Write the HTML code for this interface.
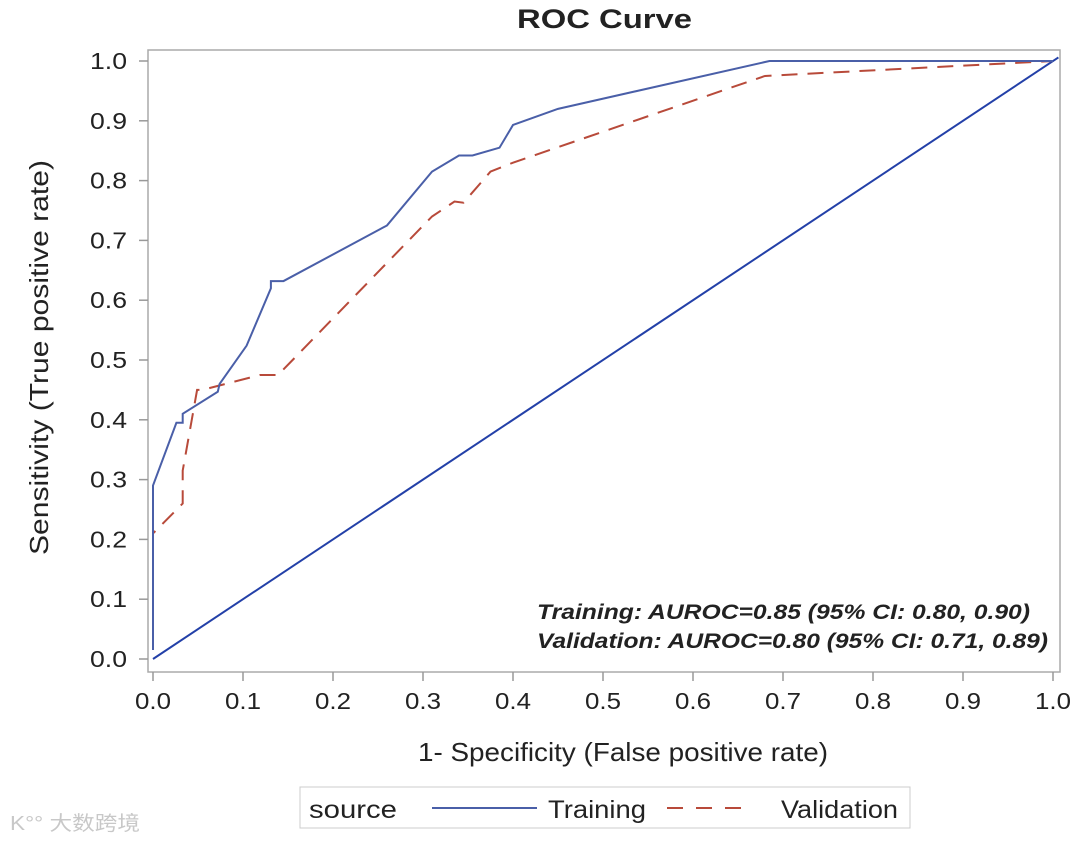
<!DOCTYPE html>
<html><head><meta charset="utf-8"><style>
body{margin:0;background:#fff;width:1080px;height:841px;overflow:hidden;font-family:"Liberation Sans",sans-serif}
svg{display:block}
text{font-family:"Liberation Sans","Noto Sans CJK SC",sans-serif;fill:#222}
</style></head><body>
<svg width="1080" height="841">
<text x="517" y="28" textLength="175" lengthAdjust="spacingAndGlyphs" font-size="27" font-weight="bold">ROC Curve</text>
<rect x="148" y="50" width="912" height="622" fill="none" stroke="#aaa" stroke-width="1.5"/>
<g id="axes"></g>
<g id="series"></g>
<text x="537" y="619" textLength="493" lengthAdjust="spacingAndGlyphs" font-size="21" font-weight="bold" font-style="italic">Training: AUROC=0.85 (95% CI: 0.80, 0.90)</text>
<text x="537" y="648" textLength="511" lengthAdjust="spacingAndGlyphs" font-size="21" font-weight="bold" font-style="italic">Validation: AUROC=0.80 (95% CI: 0.71, 0.89)</text>
<text x="418" y="761" textLength="410" lengthAdjust="spacingAndGlyphs" font-size="26">1- Specificity (False positive rate)</text>
<text transform="translate(48,555) rotate(-90)" textLength="395" lengthAdjust="spacingAndGlyphs" font-size="26">Sensitivity (True positive rate)</text>
<g>
<rect x="300" y="787" width="610" height="41" fill="#fff" stroke="#ccc"/>
<text x="309" y="818" textLength="88" lengthAdjust="spacingAndGlyphs" font-size="25">source</text>
<line x1="432" y1="808" x2="537" y2="808" stroke="#4a5fa8" stroke-width="2"/>
<text x="548" y="818" textLength="98" lengthAdjust="spacingAndGlyphs" font-size="25">Training</text>
<line x1="667" y1="808" x2="742" y2="808" stroke="#b84a3a" stroke-width="2" stroke-dasharray="16,13"/>
<text x="781" y="818" textLength="117" lengthAdjust="spacingAndGlyphs" font-size="25">Validation</text>
</g>
<text x="10" y="830" textLength="130" lengthAdjust="spacingAndGlyphs" font-size="20" style="fill:#c8c8c8">K°° 大数跨境</text>
</svg>
<script>
const ticks=[0,0.1,0.2,0.3,0.4,0.5,0.6,0.7,0.8,0.9,1.0];
const trainFPR=[0,0,0.026,0.033,0.033,0.072,0.074,0.104,0.131,0.131,0.145,0.26,0.31,0.34,0.355,0.385,0.40,0.45,0.685,1.0];
const trainTPR=[0.015,0.29,0.395,0.395,0.41,0.447,0.46,0.524,0.62,0.632,0.632,0.725,0.815,0.842,0.842,0.855,0.893,0.92,1.0,1.0];
const valFPR=[0,0,0.033,0.033,0.049,0.055,0.119,0.139,0.31,0.335,0.345,0.375,0.40,0.68,1.0];
const valTPR=[0.015,0.21,0.26,0.315,0.45,0.45,0.475,0.475,0.74,0.765,0.763,0.815,0.83,0.975,1.0];
const refX=[0,1.006];
const refY=[0,1.006];
const NS='http://www.w3.org/2000/svg';
const X=v=>153+v*900, Y=v=>659-v*598;
const ax=document.getElementById('axes'), sr=document.getElementById('series');
function mk(t,a,p){const e=document.createElementNS(NS,t);for(const k in a)e.setAttribute(k,a[k]);p.appendChild(e);return e;}
ticks.forEach(t=>{
 const l=mk('line',{x1:X(t),x2:X(t),y1:672,y2:681,stroke:'#999','stroke-width':1.5},ax);
 
 
 const tx=mk('text',{x:X(t)-18,y:709,textLength:36,lengthAdjust:'spacingAndGlyphs','font-size':23},ax);tx.textContent=t.toFixed(1);
 
 
 const l2=mk('line',{x1:139,x2:148,y1:Y(t),y2:Y(t),stroke:'#999','stroke-width':1.5},ax);
 
 
 const ty=mk('text',{x:90,y:Y(t)+8,textLength:37,lengthAdjust:'spacingAndGlyphs','font-size':23},ax);ty.textContent=t.toFixed(1);
 
 
});
function pts(xs,ys){return xs.map((x,i)=>X(x)+','+Y(ys[i])).join(' ');}
const r=mk('polyline',{points:pts(refX,refY),fill:'none',stroke:'#2340a8','stroke-width':2},sr);


const v=mk('polyline',{points:pts(valFPR,valTPR),fill:'none',stroke:'#b84a3a','stroke-width':2,'stroke-dasharray':'16,10'},sr);


const tr=mk('polyline',{points:pts(trainFPR,trainTPR),fill:'none',stroke:'#4a5fa8','stroke-width':2},sr);


</script>
</body></html>
